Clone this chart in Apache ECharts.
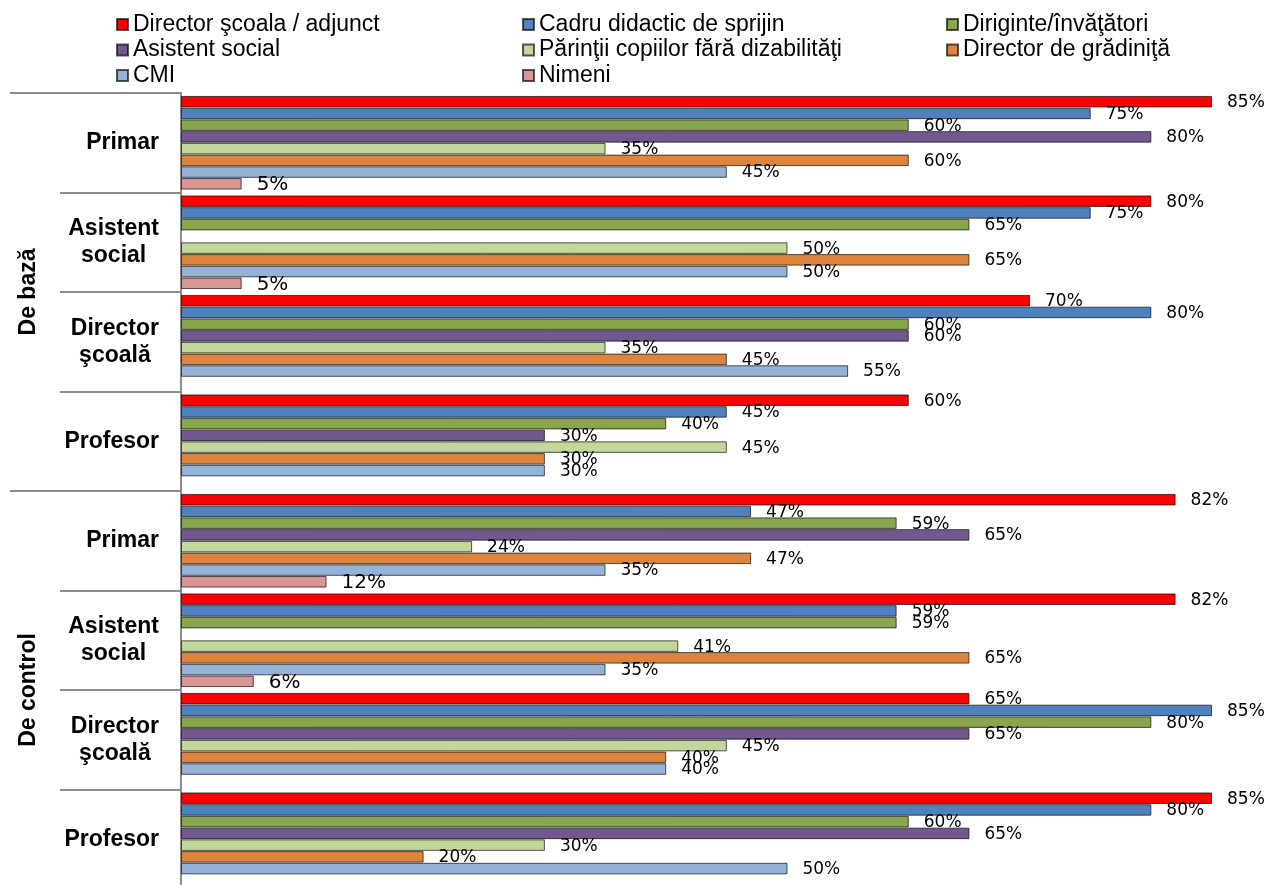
<!DOCTYPE html>
<html><head><meta charset="utf-8">
<script src="https://cdn.jsdelivr.net/npm/echarts@6/dist/echarts.min.js"></script>
<style>html,body{margin:0;padding:0;background:#fff}#c{width:1266px;height:885px}</style>
</head><body><div id="c"></div>
<script>
// Categories (top to bottom)
const categories = ['Primar', 'Asistent social', 'Director şcoală', 'Profesor', 'Primar', 'Asistent social', 'Director şcoală', 'Profesor'];
const groups = ['De bază', 'De control'];

// Series names
const seriesNames = ['Director şcoala / adjunct', 'Cadru didactic de sprijin', 'Diriginte/învăţători', 'Asistent social', 'Părinţii copiilor fără dizabilităţi', 'Director de grădiniţă', 'CMI', 'Nimeni'];

// Values (%)
const directorScoala = [85, 80, 70, 60, 82, 82, 65, 85];
const cadruDidactic  = [75, 75, 80, 45, 47, 59, 85, 80];
const diriginte      = [60, 65, 60, 40, 59, 59, 80, 60];
const asistentSocial = [80, null, 60, 30, 65, null, 65, 65];
const parinti        = [35, 50, 35, 45, 24, 41, 45, 30];
const directorGrad   = [60, 65, 45, 30, 47, 65, 40, 20];
const cmi            = [45, 50, 55, 30, 35, 35, 40, 50];
const nimeni         = [5, 5, null, null, 12, 6, null, null];

const seriesData = [directorScoala, cadruDidactic, diriginte, asistentSocial, parinti, directorGrad, cmi, nimeni];
const colors = ['#FF0000', '#4F81BD', '#89A54E', '#71588F', '#C3D69B', '#DD853F', '#95B3D7', '#D99694'];

const axisGray = '#8c8c8c';
const catFont = 'Liberation Sans, Arial, sans-serif';

const chart = echarts.init(document.getElementById('c'), null, {renderer: 'canvas'});

const legendCommon = {
  orient: 'vertical', top: 13, padding: 0, itemWidth: 11, itemHeight: 11, itemGap: 2.5,
  icon: 'rect', selectedMode: false,
  textStyle: {fontFamily: catFont, fontSize: 23, color: '#000', lineHeight: 22}
};

const option = {
  backgroundColor: '#fff',
  animation: false,
  color: colors,
  legend: [
    Object.assign({left: 116, data: [seriesNames[0], seriesNames[3], seriesNames[6]]}, legendCommon),
    Object.assign({left: 522, data: [seriesNames[1], seriesNames[4], seriesNames[7]]}, legendCommon),
    Object.assign({left: 946, data: [seriesNames[2], seriesNames[5]]}, legendCommon)
  ],
  grid: {left: 181, top: 93, width: 1031, height: 796, containLabel: false, outerBoundsMode: 'none'},
  xAxis: {type: 'value', min: 0, max: 85, show: false},
  yAxis: [
    {
      type: 'category', data: categories, inverse: true, position: 'left',
      axisLine: {show: true, lineStyle: {color: axisGray, width: 2}},
      axisTick: {show: true, length: 121, interval: 0, lineStyle: {color: axisGray, width: 2}},
      splitLine: {show: false},
      axisLabel: {
        interval: 0, margin: 22, color: '#000',
        formatter: function (v) { return v.split(' ').map(function (l) { return '{c|' + l + '}'; }).join('\n'); },
        rich: {c: {align: 'center', fontSize: 23, fontWeight: 'bold', fontFamily: catFont, color: '#000', lineHeight: 27}}
      }
    },
    {
      type: 'category', data: groups, inverse: true, position: 'left', offset: 0,
      axisLine: {show: false},
      axisTick: {show: true, length: 171, interval: 0, lineStyle: {color: axisGray, width: 2}},
      splitLine: {show: false},
      axisLabel: {rotate: 90, margin: 141, fontSize: 23, fontWeight: 'bold', fontFamily: catFont, color: '#000'}
    }
  ],
  series: seriesNames.map(function (name, i) {
    const isNim = i === 7;
    return {
      name: name, type: 'bar', yAxisIndex: 0, data: seriesData[i],
      barWidth: 11.5, barGap: '2%',
      itemStyle: {color: colors[i], borderColor: 'rgba(0,0,0,0.65)', borderWidth: 1},
      label: {
        show: true, position: 'right', distance: 15, offset: [0, 1],
        formatter: '{c}%', color: '#000',
        fontFamily: 'DejaVu Sans, Verdana, sans-serif', fontSize: isNim ? 20 : 17
      }
    };
  })
};
chart.setOption(option);
</script>
</body></html>
